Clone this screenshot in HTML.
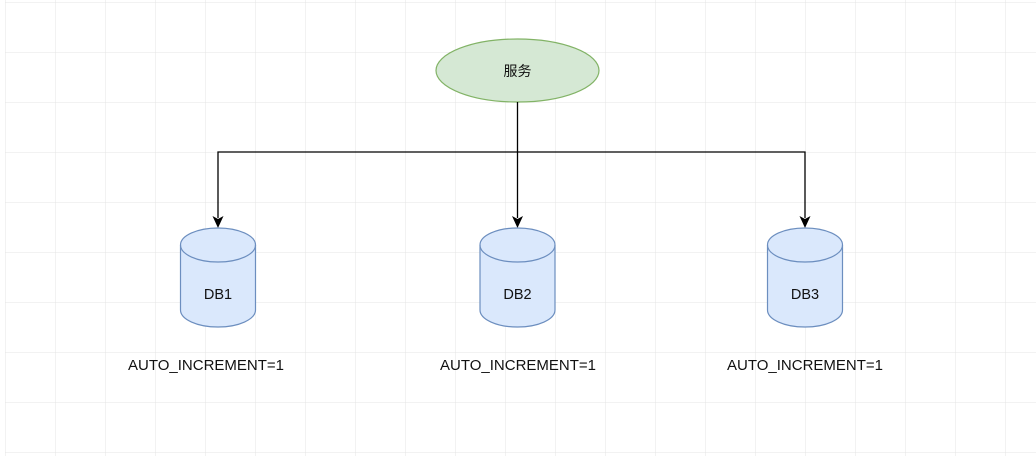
<!DOCTYPE html>
<html><head><meta charset="utf-8"><style>
html,body{margin:0;padding:0;background:#fff;}
svg{display:block;}
</style></head><body>
<svg width="1036" height="456" xmlns="http://www.w3.org/2000/svg">
<defs>
<pattern id="g" x="5" y="2" width="50" height="50" patternUnits="userSpaceOnUse">
<path d="M0 0H50M0 0V50" stroke="#e4e4e4" stroke-width="1" fill="none"/>
</pattern>
</defs>
<rect x="5" y="0" width="1031" height="456" fill="url(#g)"/>
<ellipse cx="517.5" cy="70.5" rx="81.5" ry="31.5" fill="#d5e8d4" stroke="#82b366" stroke-width="1.2"/>
<text x="517.5" y="76" font-family="Liberation Sans, Noto Sans CJK SC, sans-serif" font-size="14" text-anchor="middle" fill="#111">服务</text>
<path d="M517.5 102V218M218 218V152H805V218" stroke="#000" stroke-width="1.3" fill="none"/>
<path d="M212.5 216L218 228L223.5 216L218 219Z" fill="#000"/>
<path d="M512 216L517.5 228L523 216L517.5 219Z" fill="#000"/>
<path d="M799.5 216L805 228L810.5 216L805 219Z" fill="#000"/>
<g stroke="#6c8ebf" stroke-width="1.2" fill="#dae8fc">
<g transform="translate(218,0)">
<path d="M-37.5 245V310A37.5 17 0 0 0 37.5 310V245A37.5 17 0 0 0 -37.5 245Z"/>
<path d="M-37.5 245A37.5 17 0 0 0 37.5 245" fill="none"/>
</g>
<g transform="translate(517.5,0)">
<path d="M-37.5 245V310A37.5 17 0 0 0 37.5 310V245A37.5 17 0 0 0 -37.5 245Z"/>
<path d="M-37.5 245A37.5 17 0 0 0 37.5 245" fill="none"/>
</g>
<g transform="translate(805,0)">
<path d="M-37.5 245V310A37.5 17 0 0 0 37.5 310V245A37.5 17 0 0 0 -37.5 245Z"/>
<path d="M-37.5 245A37.5 17 0 0 0 37.5 245" fill="none"/>
</g>
</g>
<g font-family="Liberation Sans, sans-serif" font-size="14.5" fill="#111">
<text x="218" y="299" text-anchor="middle">DB1</text>
<text x="517.5" y="299" text-anchor="middle">DB2</text>
<text x="805" y="299" text-anchor="middle">DB3</text>
<text x="128" y="370" textLength="156" lengthAdjust="spacingAndGlyphs">AUTO_INCREMENT=1</text>
<text x="440" y="370" textLength="156" lengthAdjust="spacingAndGlyphs">AUTO_INCREMENT=1</text>
<text x="727" y="370" textLength="156" lengthAdjust="spacingAndGlyphs">AUTO_INCREMENT=1</text>
</g>
</svg>
</body></html>
